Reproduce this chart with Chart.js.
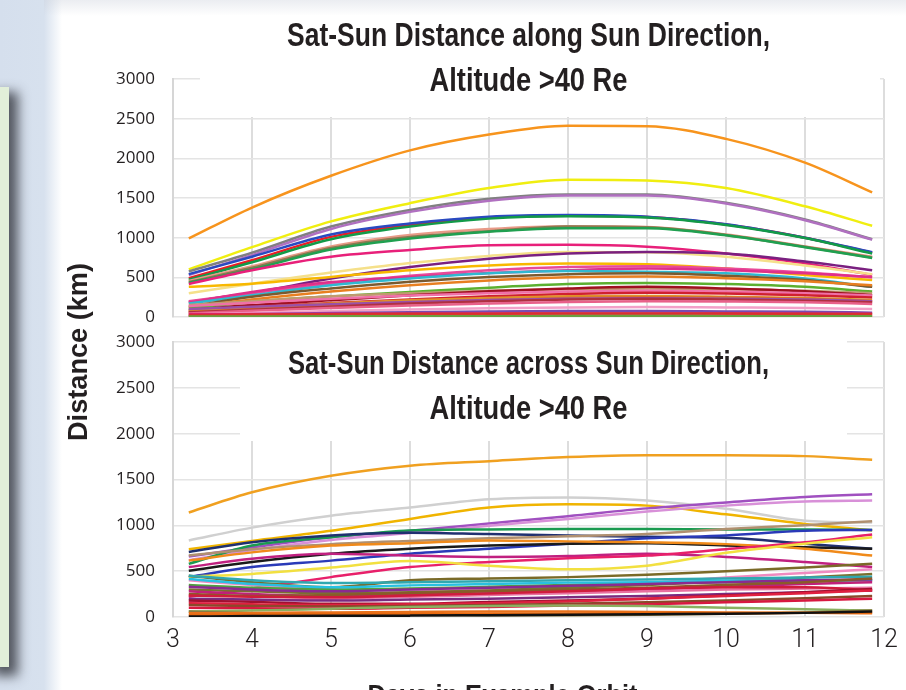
<!DOCTYPE html>
<html>
<head>
<meta charset="utf-8">
<title>Sat-Sun Distance</title>
<script src="https://cdn.jsdelivr.net/npm/chart.js@4.4.1/dist/chart.umd.min.js"></script>
<style>
  html, body { margin: 0; padding: 0; }
  body { width: 906px; height: 690px; overflow: hidden; position: relative; background: #fff; }
  #side { position: absolute; left: 0; top: 0; width: 64px; height: 690px;
          background: linear-gradient(to right, #d5dfed 0px, #d7e1ee 44px, #ffffff 62px); }
  #topfade { position: absolute; left: 44px; top: 0; right: 0; height: 16px;
             background: linear-gradient(to bottom, rgba(205,210,220,0.4), rgba(255,255,255,0)); }
  #note { position: absolute; left: -12px; top: 87px; width: 21px; height: 580px; background: #e2efd9;
          box-shadow: 7px 7px 12px 2px rgba(50,52,60,0.8); }
  canvas { position: absolute; left: 0; }
  #cTop { top: 0; }
  #cBot { top: 330px; }
  #ylab { position: absolute; left: 78px; top: 352px; font: bold 28px "Liberation Sans", Arial, sans-serif;
          color: #231f20; white-space: nowrap; }
</style>
</head>
<body>
<div id="side"></div>
<div id="topfade"></div>
<div id="note"></div>
<canvas id="cTop" width="906" height="330"></canvas>
<canvas id="cBot" width="906" height="380"></canvas>
<div id="ylab"></div>
<script>
// x positions (days) shared by every curve
const days = [3.2, 4, 5, 6, 7, 8, 9, 10, 11, 11.85];
const yTicks = [0, 500, 1000, 1500, 2000, 2500, 3000];
const xTicks = [3, 4, 5, 6, 7, 8, 9, 10, 11, 12];

const alongTitle = ['Sat-Sun Distance along Sun Direction,', 'Altitude >40 Re'];
const acrossTitle = ['Sat-Sun Distance across Sun Direction,', 'Altitude >40 Re'];
const yTitle = 'Distance (km)';
const xTitle = 'Days in Example Orbit';

// --- along sun direction (km) ---
const alongOrange   = [990, 1380, 1780, 2100, 2300, 2410, 2405, 2245, 1945, 1570];
const alongYellow   = [600, 880, 1205, 1435, 1625, 1730, 1720, 1625, 1395, 1150];
const alongGray     = [575, 810, 1140, 1350, 1490, 1545, 1545, 1440, 1230, 980];
const alongPurple   = [530, 780, 1110, 1325, 1465, 1530, 1530, 1430, 1220, 975];
const alongBlue     = [540, 760, 1040, 1180, 1265, 1285, 1265, 1170, 1000, 815];
const alongGreen    = [470, 690, 980, 1140, 1240, 1270, 1255, 1160, 995, 800];
const alongRed      = [490, 715, 1010, 1160, 1255, 1275, 1260, 1165, 1000, 810];
const alongSalmon   = [455, 640, 890, 1035, 1110, 1145, 1135, 1040, 890, 760];
const alongOlive    = [440, 620, 870, 1010, 1080, 1140, 1130, 1035, 885, 750];
const alongGreen2   = [430, 600, 850, 990, 1075, 1120, 1120, 1030, 880, 745];
const alongPink     = [415, 590, 760, 845, 905, 910, 885, 800, 675, 530];
const alongLtYellow = [300, 420, 560, 680, 770, 820, 815, 760, 650, 540];
const alongDkPurple = [190, 305, 485, 630, 735, 800, 820, 800, 700, 590];
const alongGold     = [380, 420, 505, 590, 650, 675, 665, 610, 530, 465];
const alongPink2    = [200, 300, 420, 520, 590, 630, 640, 610, 560, 500];
const alongMagenta  = [180, 315, 440, 505, 555, 590, 610, 590, 550, 505];
const alongCyan     = [170, 275, 400, 485, 550, 580, 570, 550, 485, 380];
const alongBrown    = [130, 255, 360, 445, 505, 540, 550, 520, 465, 380];
const alongOrange3  = [120, 220, 320, 400, 460, 500, 510, 490, 450, 400];
const alongLime     = [105, 190, 260, 315, 370, 415, 430, 415, 380, 320];
const alongTan      = [150, 200, 260, 300, 330, 350, 360, 350, 330, 300];
const alongDkRed    = [85, 150, 210, 275, 325, 360, 380, 360, 325, 275];
const alongPink3    = [140, 180, 230, 270, 300, 320, 330, 320, 300, 270];
const alongCrimson  = [65, 125, 175, 220, 260, 290, 305, 295, 275, 245];
const alongOrange4  = [80, 120, 170, 210, 240, 260, 265, 255, 240, 215];
const alongOrange2  = [55, 100, 140, 180, 215, 240, 250, 245, 230, 200];
const alongPurple3  = [100, 130, 160, 190, 215, 230, 235, 230, 220, 200];
const alongMaroon   = [60, 90, 130, 170, 200, 220, 230, 220, 205, 185];
const alongRose     = [45, 80, 115, 145, 170, 190, 200, 195, 185, 165];
const alongLtPink   = [30, 50, 75, 95, 110, 120, 125, 120, 115, 100];
const alongViolet   = [20, 35, 50, 60, 70, 75, 75, 70, 65, 55];
const alongHotPink  = [35, 38, 40, 42, 44, 45, 45, 44, 42, 40];
const alongRed3     = [25, 30, 35, 40, 42, 45, 45, 43, 40, 38];
const alongRed2     = [10, 12, 14, 15, 16, 17, 16, 15, 14, 12];
const alongGreen3   = [5, 6, 8, 10, 10, 12, 12, 11, 10, 8];

// --- across sun direction (km) ---
const acrossOrange   = [1140, 1360, 1540, 1650, 1700, 1745, 1765, 1765, 1755, 1715];
const acrossLtGray   = [835, 975, 1105, 1195, 1285, 1305, 1270, 1180, 1050, 1030];
const acrossGold     = [740, 830, 940, 1070, 1195, 1230, 1215, 1120, 1015, 945];
const acrossPurple   = [660, 760, 870, 940, 1020, 1100, 1185, 1250, 1310, 1340];
const acrossLavender = [620, 730, 840, 915, 995, 1070, 1150, 1215, 1260, 1270];
const acrossGreen    = [580, 780, 870, 945, 955, 960, 960, 955, 955, 950];
const acrossNavy     = [710, 815, 890, 920, 905, 890, 875, 865, 800, 745];
const acrossTan      = [670, 740, 795, 830, 860, 880, 905, 960, 1000, 1045];
const acrossBlue     = [435, 545, 615, 690, 745, 800, 860, 890, 940, 950];
const acrossBlack    = [505, 600, 690, 745, 780, 800, 805, 780, 760, 745];
const acrossOrangeM  = [615, 705, 780, 805, 835, 825, 815, 795, 745, 670];
const acrossMagenta  = [545, 635, 690, 670, 655, 665, 690, 655, 600, 545];
const acrossHotPink  = [220, 310, 435, 545, 600, 640, 670, 740, 815, 900];
const acrossYellow   = [440, 470, 540, 610, 560, 520, 560, 700, 800, 870];
const acrossPink2    = [400, 350, 300, 290, 300, 330, 370, 430, 480, 520];
const acrossOlive    = [450, 380, 325, 400, 420, 435, 460, 500, 540, 580];
const acrossOlive3   = [300, 280, 260, 270, 290, 320, 350, 390, 430, 470];
const acrossTeal     = [450, 400, 370, 380, 390, 400, 410, 420, 430, 440];
const acrossGreen2   = [350, 320, 300, 310, 330, 350, 370, 380, 390, 400];
const acrossCyan     = [415, 360, 325, 345, 360, 375, 380, 395, 400, 400];
const acrossPurple2  = [330, 300, 280, 300, 320, 340, 360, 380, 400, 410];
const acrossMagenta2 = [280, 250, 230, 240, 260, 280, 300, 330, 360, 380];
const acrossBrown    = [250, 230, 240, 260, 280, 300, 320, 350, 380, 420];
const acrossRose     = [170, 180, 200, 220, 240, 260, 280, 300, 310, 320];
const acrossCrimson  = [235, 220, 215, 235, 255, 280, 310, 325, 325, 290];
const acrossPurple3  = [200, 190, 180, 190, 200, 215, 230, 250, 270, 290];
const acrossDkRed    = [180, 165, 145, 145, 165, 180, 200, 235, 270, 305];
const acrossRed      = [150, 140, 130, 140, 150, 170, 200, 230, 260, 290];
const acrossBrown2   = [130, 120, 115, 120, 130, 145, 160, 180, 205, 230];
const acrossRed2     = [100, 95, 90, 100, 110, 125, 140, 160, 180, 200];
const acrossLtGreen  = [60, 70, 90, 110, 120, 125, 120, 100, 85, 70];
const acrossOlive2   = [60, 40, 30, 25, 20, 20, 25, 35, 50, 70];
const acrossOrangeL  = [40, 45, 50, 55, 60, 60, 55, 50, 45, 40];
const acrossOrange2  = [20, 25, 30, 30, 35, 35, 40, 40, 45, 50];
const acrossBlack2   = [5, 10, 15, 15, 20, 25, 30, 35, 45, 60];

// series -> colour, drawn in this order (last on top)
const alongSeries = [
  [alongGreen3, '#6aa040'], [alongRed2, '#e03a2a'], [alongRed3, '#d83030'], [alongHotPink, '#e0207a'],
  [alongViolet, '#7a4ab0'], [alongLtPink, '#f2a0c8'], [alongRose, '#e8608a'], [alongMaroon, '#b03040'],
  [alongPurple3, '#9a50a8'], [alongOrange2, '#d8702a'], [alongOrange4, '#e0902a'], [alongCrimson, '#d02030'],
  [alongPink3, '#f070a8'], [alongDkRed, '#a01020'], [alongTan, '#c09a70'], [alongLime, '#5cb030'],
  [alongOrange3, '#e87f20'], [alongBrown, '#7a5a30'], [alongCyan, '#30b8d0'], [alongMagenta, '#e0308a'],
  [alongPink2, '#e84a9a'], [alongGold, '#f8b800'], [alongDkPurple, '#7a2080'], [alongLtYellow, '#f5e08a'],
  [alongPink, '#e8207a'], [alongGreen2, '#20a050'], [alongOlive, '#8a7a50'], [alongSalmon, '#e89a88'],
  [alongGreen, '#129a48'], [alongBlue, '#2a4ac0'], [alongRed, '#ec1c24'], [alongPurple, '#b070c0'],
  [alongGray, '#808080'], [alongYellow, '#f0ee10'], [alongOrange, '#f7941d']
];
const acrossSeries = [
  [acrossBlack2, '#111111'], [acrossOrange2, '#e86a10'], [acrossOrangeL, '#e8701a'], [acrossOlive2, '#8a7a40'],
  [acrossLtGreen, '#8ab060'], [acrossRed2, '#d81840'], [acrossBrown2, '#8a4a2a'], [acrossRed, '#e02040'],
  [acrossDkRed, '#a01030'], [acrossPurple3, '#7a2a80'], [acrossCrimson, '#d01c3c'], [acrossRose, '#e870a0'],
  [acrossBrown, '#8a5a2a'], [acrossMagenta2, '#c0207a'], [acrossPurple2, '#8a2a90'], [acrossCyan, '#28c0e0'],
  [acrossGreen2, '#50a040'], [acrossTeal, '#30a8b0'], [acrossOlive3, '#7a7030'], [acrossOlive, '#7a6a28'],
  [acrossPink2, '#f08ac0'], [acrossYellow, '#f2e040'], [acrossHotPink, '#e8206a'], [acrossMagenta, '#c02080'],
  [acrossOrangeM, '#f08a1a'], [acrossBlack, '#1a1a1a'], [acrossBlue, '#2a3ab8'], [acrossTan, '#b09070'],
  [acrossNavy, '#203070'], [acrossGreen, '#1a9a50'], [acrossLavender, '#d890d8'], [acrossPurple, '#a050c0'],
  [acrossGold, '#f0b400'], [acrossLtGray, '#d0d0d0'], [acrossOrange, '#f0a020']
];

const ink = '#231f20';
const boldFont = 'bold 33px "Liberation Sans", Arial, sans-serif';
const tickFamily = '"Open Sans", "Noto Sans", sans-serif';

// condensed look: squeeze a bold face to the reference text width
function squeezedText(ctx, text, x, y, width) {
  const w = ctx.measureText(text).width;
  ctx.save();
  ctx.translate(x, y);
  ctx.scale(width / w, 1);
  ctx.fillText(text, 0, 0);
  ctx.restore();
}

// y axis title, rotated and squeezed
(function () {
  const el = document.getElementById('ylab');
  el.textContent = yTitle;
  const m = document.createElement('canvas').getContext('2d');
  m.font = 'bold 28px "Liberation Sans", Arial, sans-serif';
  const sx = 178 / m.measureText(yTitle).width;
  el.style.transform = 'translate(-50%, -50%) rotate(-90deg) scaleX(' + sx + ')';
})();

function makeSets(list) {
  return list.map(([vals, color]) => ({
    data: days.map((d, i) => ({ x: d, y: vals[i] })),
    borderColor: color,
    backgroundColor: color,
    borderWidth: 2.5,
    pointRadius: 0,
    cubicInterpolationMode: 'monotone',
    fill: false
  }));
}

// white box behind the two-line title, drawn over the grid but under the curves
const boxTitle = {
  id: 'boxTitle',
  beforeDatasetsDraw(chart, args, o) {
    const a = chart.chartArea, ctx = chart.ctx;
    ctx.save();
    ctx.fillStyle = '#ffffff';
    ctx.fillRect(a.left + o.left, o.top, (a.right - o.right) - (a.left + o.left), a.top + o.bottom - o.top);
    ctx.fillStyle = ink;
    ctx.font = boldFont;
    ctx.textAlign = 'center';
    ctx.textBaseline = 'alphabetic';
    const cx = (a.left + a.right) / 2;
    o.lines.forEach((t, i) => squeezedText(ctx, t, cx, a.top + o.baselines[i], o.widths[i]));
    ctx.restore();
  },
  afterDraw(chart, args, o) {
    if (!o.xTitle) return;
    const a = chart.chartArea, ctx = chart.ctx;
    ctx.save();
    ctx.fillStyle = ink;
    ctx.font = 'bold 28px "Liberation Sans", Arial, sans-serif';
    ctx.textAlign = 'center';
    ctx.textBaseline = 'alphabetic';
    squeezedText(ctx, o.xTitle, (a.left + a.right) / 2 - 26, a.bottom + 87, 270);
    ctx.restore();
  }
};

function noPad(s) { s.paddingTop = 0; s.paddingBottom = 0; s.paddingLeft = 0; s.paddingRight = 0; }

function options(showX, pad, title) {
  return {
    responsive: false,
    animation: false,
    layout: { padding: pad },
    plugins: { legend: { display: false }, tooltip: { enabled: false }, boxTitle: title },
    scales: {
      x: {
        type: 'linear', min: xTicks[0], max: xTicks[xTicks.length - 1],
        ticks: { stepSize: xTicks[1] - xTicks[0], display: showX, color: ink, padding: 9,
                 font: { family: 'Roboto, "Liberation Sans", sans-serif', size: 25, weight: 300 } },
        grid: { color: '#dddddd', lineWidth: 2, drawTicks: false },
        border: { display: false },
        afterFit: s => { s.height = showX ? 93 : 0; noPad(s); }
      },
      y: {
        min: yTicks[0], max: yTicks[yTicks.length - 1],
        ticks: { stepSize: yTicks[1] - yTicks[0], color: ink, padding: 18,
                 font: { family: tickFamily, size: 17 }, callback: v => String(v) },
        grid: { color: '#e4e4e4', lineWidth: 1.5, drawTicks: false },
        border: { display: true, color: '#d6d6d6', width: 2 },
        afterFit: s => { s.width = 173; noPad(s); }
      }
    }
  };
}

new Chart(document.getElementById('cTop'), {
  type: 'line',
  data: { datasets: makeSets(alongSeries) },
  options: options(false, { top: 79, right: 22, bottom: 13, left: 0 },
    { lines: alongTitle, baselines: [-33, 12], widths: [483, 198], left: 27, right: 4, top: 15, bottom: 38 }),
  plugins: [boxTitle]
});

new Chart(document.getElementById('cBot'), {
  type: 'line',
  data: { datasets: makeSets(acrossSeries) },
  options: options(true, { top: 12, right: 22, bottom: 0, left: 0 },
    { lines: acrossTitle, baselines: [32, 77], widths: [481, 198], left: 67, right: 37, top: 0, bottom: 99,
      xTitle: xTitle }),
  plugins: [boxTitle]
});
</script>
</body>
</html>
